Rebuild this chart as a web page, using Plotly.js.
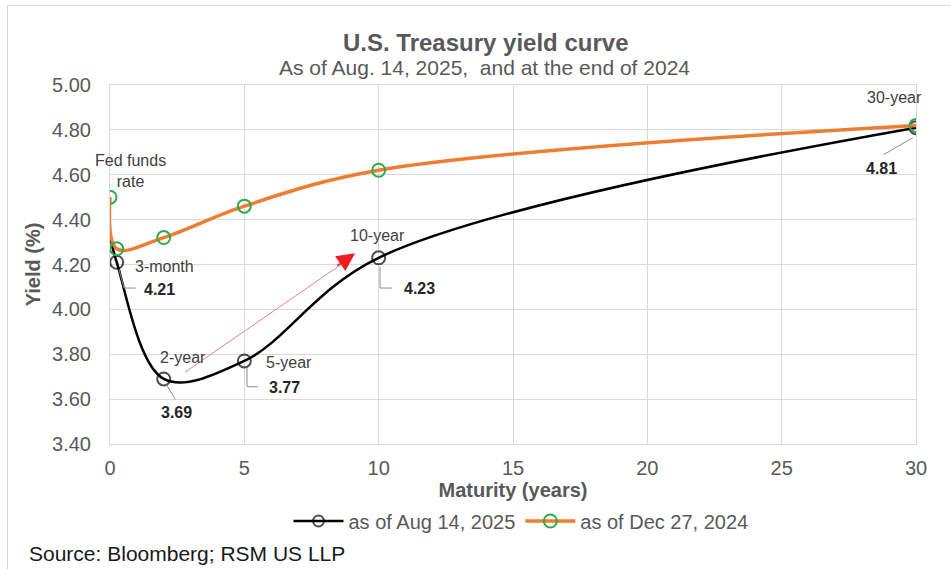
<!DOCTYPE html>
<html>
<head>
<meta charset="utf-8">
<script src="https://cdn.plot.ly/plotly-3.0.1.min.js"></script>
<style>
html,body{margin:0;padding:0;background:#fff;}
#chart{width:951px;height:569px;position:relative;}
#frame{position:absolute;left:7px;top:5px;width:944px;height:564px;border-left:1px solid #d9d9d9;border-top:1px solid #d9d9d9;pointer-events:none;}
</style>
</head>
<body>
<div id="chart"></div>
<div id="frame"></div>
<script>
// Data
const maturity2025 = [0, 0.25, 2, 5, 10, 30];
const yield2025 = [4.33, 4.21, 3.69, 3.77, 4.23, 4.81];
const maturity2024 = [0, 0.25, 2, 5, 10, 30];
const yield2024 = [4.50, 4.27, 4.32, 4.46, 4.62, 4.82];
const seriesNames = ["as of Aug 14, 2025", "as of Dec 27, 2024"];
const xTicks = [0, 5, 10, 15, 20, 25, 30];
const yTicks = [3.40, 3.60, 3.80, 4.00, 4.20, 4.40, 4.60, 4.80, 5.00];
const pointLabels = ["Fed funds<br>rate", "3-month", "2-year", "5-year", "10-year", "30-year"];
const valueLabels = ["4.21", "3.69", "3.77", "4.23", "4.81"];

const grey = '#595959';
const font = 'Liberation Sans, Arial, sans-serif';

const traces = [
  {
    x: maturity2025, y: yield2025, name: seriesNames[0], type: 'scatter', mode: 'lines+markers',
    line: {color: '#000000', width: 2.5, shape: 'spline', smoothing: 1.0},
    marker: {symbol: 'circle-open', size: [0, 13, 13, 13, 13, 13], color: '#000000', line: {width: 2, color: '#000000'}}
  },
  {
    x: maturity2024, y: yield2024, name: seriesNames[1], type: 'scatter', mode: 'lines+markers',
    line: {color: '#ED7D31', width: 3.5, shape: 'spline', smoothing: 1.0},
    marker: {symbol: 'circle-open', size: 13, color: '#2EAA4A', line: {width: 2, color: '#2EAA4A'}}
  }
];

const lbl = {font: {family: font, size: 16, color: '#404040'}, showarrow: false, xref: 'x', yref: 'y'};
const val = {font: {family: font, size: 16, color: '#262626'}, showarrow: false, xref: 'x', yref: 'y'};

const annotations = [
  {text: '<b>U.S. Treasury yield curve</b>', xref: 'paper', yref: 'paper', x: (485-110)/806, y: 1.0 + (85-42)/359, xanchor: 'center', yanchor: 'middle', showarrow: false, font: {family: font, size: 24, color: grey}},
  {text: 'As of Aug. 14, 2025,  and at the end of 2024', xref: 'paper', yref: 'paper', x: (484-110)/806, y: 1.0 + (85-67)/359, xanchor: 'center', yanchor: 'middle', showarrow: false, font: {family: font, size: 21, color: grey}},
  {text: 'Source: Bloomberg; RSM US LLP', xref: 'paper', yref: 'paper', x: (27-110)/806, y: (444-553)/359, xanchor: 'left', yanchor: 'middle', showarrow: false, font: {family: font, size: 21, color: '#1a1a1a'}},
  Object.assign({}, lbl, {text: pointLabels[0], x: 0.78, y: 4.616, xanchor: 'center', yanchor: 'middle'}),
  Object.assign({}, lbl, {text: pointLabels[1], x: 0.86, y: 4.19, xanchor: 'left', yanchor: 'middle'}),
  Object.assign({}, lbl, {text: pointLabels[2], x: 1.80, y: 3.786, xanchor: 'left', yanchor: 'middle'}),
  Object.assign({}, lbl, {text: pointLabels[3], x: 5.75, y: 3.763, xanchor: 'left', yanchor: 'middle'}),
  Object.assign({}, lbl, {text: pointLabels[4], x: 8.84, y: 4.33, xanchor: 'left', yanchor: 'middle'}),
  Object.assign({}, lbl, {text: pointLabels[5], x: 29.2, y: 4.946, xanchor: 'center', yanchor: 'middle'}),
  Object.assign({}, val, {text: '<b>' + valueLabels[0] + '</b>', x: 1.2, y: 4.09, xanchor: 'left', yanchor: 'middle'}),
  Object.assign({}, val, {text: '<b>' + valueLabels[1] + '</b>', x: 2.46, y: 3.54, xanchor: 'center', yanchor: 'middle'}),
  Object.assign({}, val, {text: '<b>' + valueLabels[2] + '</b>', x: 5.85, y: 3.652, xanchor: 'left', yanchor: 'middle'}),
  Object.assign({}, val, {text: '<b>' + valueLabels[3] + '</b>', x: 10.85, y: 4.094, xanchor: 'left', yanchor: 'middle'}),
  Object.assign({}, val, {text: '<b>' + valueLabels[4] + '</b>', x: 28.73, y: 4.63, xanchor: 'center', yanchor: 'middle'}),
  {x: 9.12, y: 4.25, ax: 8.4, ay: 4.19, xref: 'x', yref: 'y', axref: 'x', ayref: 'y', showarrow: true, arrowhead: 2, arrowsize: 2.4, arrowwidth: 1.5, arrowcolor: '#ee1c1c', text: ''}
];

const leader = {type: 'line', xref: 'x', yref: 'y', line: {color: '#8c8c8c', width: 1}};
const shapes = [
  Object.assign({}, leader, {x0: 0.33, y0: 4.18, x1: 0.52, y1: 4.095}),
  Object.assign({}, leader, {x0: 0.52, y0: 4.095, x1: 0.95, y1: 4.095}),
  Object.assign({}, leader, {x0: 2.1, y0: 3.665, x1: 2.43, y1: 3.60}),
  Object.assign({}, leader, {x0: 5.1, y0: 3.74, x1: 5.1, y1: 3.655}),
  Object.assign({}, leader, {x0: 5.1, y0: 3.655, x1: 5.5, y1: 3.655}),
  Object.assign({}, leader, {x0: 10.05, y0: 4.19, x1: 10.05, y1: 4.095}),
  Object.assign({}, leader, {x0: 10.05, y0: 4.095, x1: 10.5, y1: 4.095}),
  Object.assign({}, leader, {x0: 29.88, y0: 4.765, x1: 28.8, y1: 4.69}),
  {type: 'line', xref: 'x', yref: 'y', x0: 2.79, y0: 3.72, x1: 8.6, y1: 4.2, line: {color: '#e88080', width: 1}}
];

const layout = {
  width: 951, height: 569,
  margin: {l: 110, r: 35, t: 85, b: 125},
  paper_bgcolor: '#ffffff', plot_bgcolor: '#ffffff',
  font: {family: font, color: grey},
  showlegend: true,
  legend: {orientation: 'h', x: (521-110)/806, xanchor: 'center', y: (444-521)/359, yanchor: 'middle',
           font: {family: font, size: 20, color: grey}, itemwidth: 50, traceorder: 'normal'},
  xaxis: {range: [0, 30], tickvals: xTicks, ticktext: xTicks.map(String), showgrid: true, gridcolor: '#d9d9d9', gridwidth: 1,
          zeroline: false, showline: true, linecolor: '#d9d9d9', mirror: true, ticks: '', ticklabelstandoff: 6,
          tickfont: {family: font, size: 20, color: grey},
          title: {text: '<b>Maturity (years)</b>', font: {family: font, size: 20, color: grey}, standoff: 2}},
  yaxis: {range: [3.4, 5.0], tickvals: yTicks, tickformat: '.2f', showgrid: true, gridcolor: '#d9d9d9', gridwidth: 1,
          zeroline: false, showline: true, linecolor: '#d9d9d9', mirror: true, ticks: '', ticklabelstandoff: 14,
          tickfont: {family: font, size: 20, color: grey},
          title: {text: '<b>Yield (%)</b>', font: {family: font, size: 20, color: grey}, standoff: 6}},
  annotations: annotations,
  shapes: shapes
};

Plotly.newPlot('chart', traces, layout, {displayModeBar: false, staticPlot: true});
</script>
</body>
</html>
